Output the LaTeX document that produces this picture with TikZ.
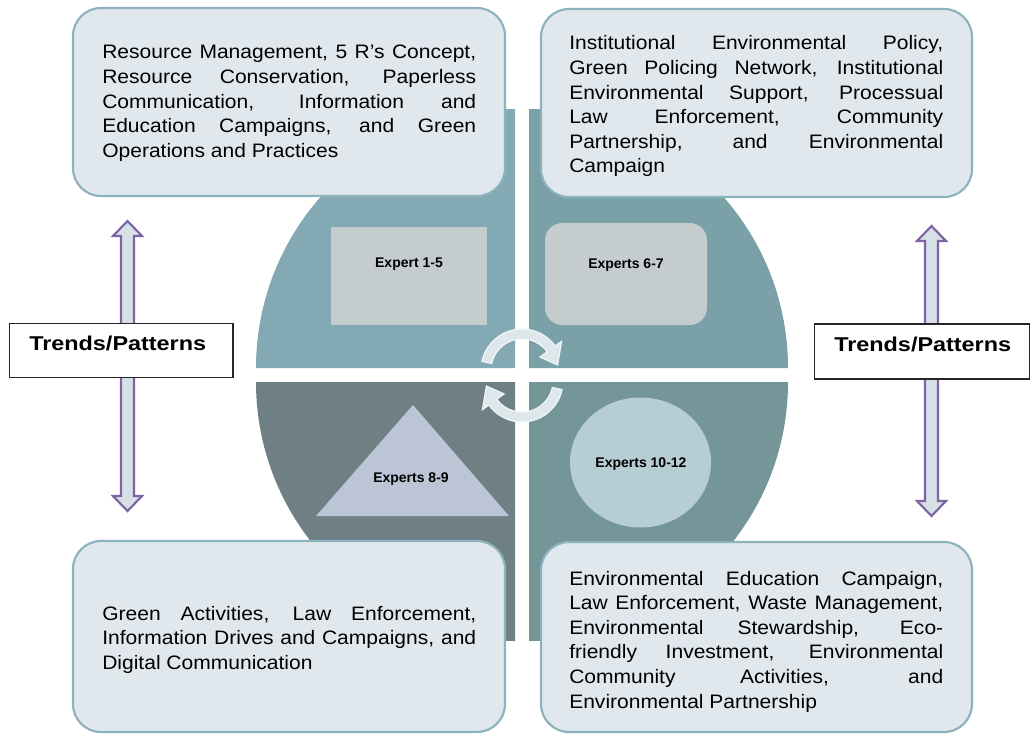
\documentclass[tikz,border=0pt]{standalone}
\usepackage{fontspec}
\setmainfont{Liberation Sans}
\usepackage{graphicx}
\usetikzlibrary{calc}
\definecolor{boxfill}{RGB}{225,232,237}
\definecolor{boxline}{RGB}{140,178,189}
\definecolor{qtl}{RGB}{131,170,180}
\definecolor{qtr}{RGB}{122,160,168}
\definecolor{qbl}{RGB}{110,128,131}
\definecolor{qbr}{RGB}{117,150,153}
\definecolor{shgray}{RGB}{197,204,206}
\definecolor{trifill}{RGB}{188,197,214}
\definecolor{circfill}{RGB}{181,205,211}
\definecolor{arrfill}{RGB}{213,225,230}
\definecolor{arrline}{RGB}{128,100,162}
\definecolor{cycfill}{RGB}{222,231,235}
\definecolor{cycline}{RGB}{244,247,249}
\newlength\bodyw
\setlength\bodyw{259.7pt}
\newcommand{\fillline}[1]{\makebox[\bodyw][s]{#1}}
\newcommand{\boxpar}[1]{\scalebox{1.08}[1]{\parbox[t]{\bodyw}{\fontsize{14.6pt}{18.45pt}\selectfont #1}}}
\tikzset{
  txtbox/.style={draw=boxline, line width=1.6pt, fill=boxfill, rounded corners=21pt},
  bodytext/.style={anchor=base west, inner sep=0pt, text=black},
  explabel/.style={anchor=base, inner sep=0pt, font=\bfseries\fontsize{10.5pt}{12pt}\selectfont},
  trendbox/.style={draw=black!85, line width=0.8pt, fill=white},
  trendtext/.style={anchor=base west, inner sep=0pt},
  dblarrow/.style={draw=arrline, line width=1.6pt, fill=arrfill, line join=miter},
  cycarrow/.style={draw=cycline, line width=0.8pt, fill=cycfill}
}
\begin{document}
\begin{tikzpicture}[x=0.75pt,y=-0.75pt]
\useasboundingbox (0,0) rectangle (1030,735);
\fill[white] (0,0) rectangle (1030,735);

% circle quadrants
\coordinate (qTL) at (515,368);
\coordinate (qTR) at (529,368);
\coordinate (qBL) at (515,382);
\coordinate (qBR) at (529,382);
\fill[qtl] (qTL) -- ++(-259,0) arc[start angle=180,end angle=270,radius=259] -- cycle;
\fill[qtr] (qTR) -- ++(0,-259) arc[start angle=270,end angle=360,radius=259] -- cycle;
\fill[qbr] (qBR) -- ++(259,0) arc[start angle=0,end angle=90,radius=259] -- cycle;
\fill[qbl] (qBL) -- ++(0,259) arc[start angle=90,end angle=180,radius=259] -- cycle;

% inner shapes
\fill[shgray] (331,227) rectangle (487,325);
\fill[shgray, rounded corners=13pt] (545,223) rectangle (707,325);
\fill[trifill] (413,405) -- (509,516) -- (316,516) -- cycle;
\fill[circfill] (640.5,462.5) ellipse[x radius=70.5, y radius=65];
\node[explabel] (e15) at (409,267) {Expert 1-5};
\node[explabel] (e67) at (626,268) {Experts 6-7};
\node[explabel] (e89) at (411,482) {Experts 8-9};
\node[explabel] (e1012) at (641,467) {Experts 10-12};

% cycle arrows
\coordinate (c1) at (522,370);
\coordinate (c2) at (522,381);
\draw[cycarrow] ([shift={(-168:41)}]c1) arc[start angle=-168,end angle=-36,radius=41]
  -- ([shift={(-36:49)}]c1) -- ([shift={(-8:36)}]c1) -- ([shift={(-36:22)}]c1)
  -- ([shift={(-36:31)}]c1) arc[start angle=-36,end angle=-168,radius=31] -- cycle;
\draw[cycarrow] ([shift={(12:41)}]c2) arc[start angle=12,end angle=144,radius=41]
  -- ([shift={(144:49)}]c2) -- ([shift={(172:36)}]c2) -- ([shift={(144:22)}]c2)
  -- ([shift={(144:31)}]c2) arc[start angle=144,end angle=12,radius=31] -- cycle;

% text boxes
\draw[txtbox] (73,8) rectangle (505,196);
\draw[txtbox] (541,9) rectangle (972,197);
\draw[txtbox] (73,541) rectangle (505,732);
\draw[txtbox] (541,542) rectangle (972,732);

\node[bodytext] (ttl) at (102,59) {\boxpar{%
\fillline{Resource Management, 5 R’s Concept,}\\
\fillline{Resource Conservation, Paperless}\\
\fillline{Communication, Information and}\\
\fillline{Education Campaigns, and Green}\\
Operations and Practices}};

\node[bodytext] (ttr) at (569,50) {\boxpar{%
\fillline{Institutional Environmental Policy,}\\
\fillline{Green Policing Network, Institutional}\\
\fillline{Environmental Support, Processual}\\
\fillline{Law Enforcement, Community}\\
\fillline{Partnership, and Environmental}\\
Campaign}};

\node[bodytext] (tbl) at (102,620) {\boxpar{%
\fillline{Green Activities, Law Enforcement,}\\
\fillline{Information Drives and Campaigns, and}\\
Digital Communication}};

\node[bodytext] (tbr) at (569,585) {\boxpar{%
\fillline{Environmental Education Campaign,}\\
\fillline{Law Enforcement, Waste Management,}\\
\fillline{Environmental Stewardship, Eco-}\\
\fillline{friendly Investment, Environmental}\\
\fillline{Community Activities, and}\\
Environmental Partnership}};

% double arrows
\foreach \ax/\at/\ab/\nm in {127.5/221/511/L, 931.5/226/516/R}{
  \coordinate (top\nm) at (\ax,\at);
  \coordinate (bot\nm) at (\ax,\ab);
  \draw[dblarrow] (top\nm) -- ++(14.5,15) -- ++(-8,0) -- ($(bot\nm)+(6.5,-15)$)
    -- ++(8,0) -- (bot\nm) -- ++(-14.5,-15) -- ++(8,0) -- ($(top\nm)+(-6.5,15)$)
    -- ++(-8,0) -- cycle;
}

% trends boxes
\draw[trendbox] (9.5,323.5) rectangle (233,377.5);
\node[trendtext] (trL) at (29,350) {\scalebox{1.17}[1]{\bfseries\fontsize{15pt}{18pt}\selectfont Trends/Patterns}};
\draw[trendbox] (814.5,324) rectangle (1029.5,379);
\node[trendtext] (trR) at (834,351) {\scalebox{1.17}[1]{\bfseries\fontsize{15pt}{18pt}\selectfont Trends/Patterns}};
\end{tikzpicture}
\end{document}
